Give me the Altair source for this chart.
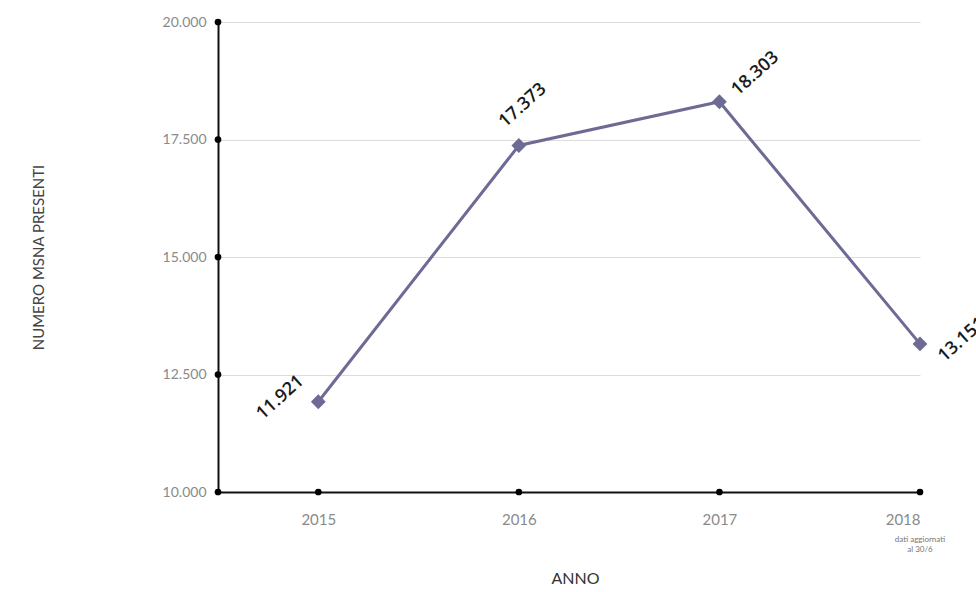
import altair as alt
import pandas as pd

years = [2015, 2016, 2017, 2018]
values = [11921, 17373, 18303, 13151]
labels = ["11.921", "17.373", "18.303", "13.151"]
y_ticks = [10000, 12500, 15000, 17500, 20000]
x_ticks = [2015, 2016, 2017, 2018]
note_2018 = ["dati aggiornati", "al 30/6"]

# label offsets (pixels) per point: styles, not data
label_offsets = {2015: (-38, -4), 2016: (4, -40), 2017: (36, -28), 2018: (42, -4)}

df = pd.DataFrame({"anno": years, "valore": values, "etichetta": labels})
yt = pd.DataFrame({"v": y_ticks, "x0": [2014.5] * len(y_ticks)})
xt = pd.DataFrame({"anno": x_ticks, "y0": [10000] * len(x_ticks)})
note = pd.DataFrame({"anno": [2018], "y0": [10000], "txt": [note_2018]})

LINE = "#6d6b96"
xscale = alt.Scale(domain=[2014.5, 2018.0], nice=False, zero=False)
yscale = alt.Scale(domain=[10000, 20000], nice=False, zero=False)

lbl_expr = "replace(format(datum.value, ','), ',', '.')"

base = alt.Chart(df)

line = base.mark_line(color=LINE, strokeWidth=3).encode(
    x=alt.X("anno:Q", scale=xscale,
            axis=alt.Axis(values=x_ticks, format="d", title="ANNO", grid=False,
                          domainColor="#111", domainWidth=2, ticks=False,
                          labelColor="#8a8a8a", labelFontSize=15, labelFont="Lato",
                          labelPadding=20, titleFont="Lato", titleFontSize=16,
                          titleFontWeight="normal", titleColor="#333",
                          titleX=357, titleY=78)),
    y=alt.Y("valore:Q", scale=yscale,
            axis=alt.Axis(values=y_ticks, labelExpr=lbl_expr, title="NUMERO MSNA PRESENTI",
                          grid=True, gridColor="#dcdcdc", gridWidth=1.2,
                          domainColor="#111", domainWidth=2, ticks=False,
                          labelColor="#8a8a8a", labelFontSize=14, labelFont="Lato",
                          labelPadding=12, titleFont="Lato", titleFontSize=15,
                          titleFontWeight="normal", titleColor="#444",
                          titleAngle=-90, titleX=-172, titleY=235)),
)

points = base.mark_point(shape="diamond", filled=True, size=220, color=LINE, opacity=1).encode(
    x=alt.X("anno:Q", scale=xscale), y=alt.Y("valore:Q", scale=yscale))

ydots = alt.Chart(yt).mark_circle(color="#000", size=45, opacity=1).encode(
    x=alt.X("x0:Q", scale=xscale), y=alt.Y("v:Q", scale=yscale))
xdots = alt.Chart(xt).mark_circle(color="#000", size=45, opacity=1).encode(
    x=alt.X("anno:Q", scale=xscale), y=alt.Y("y0:Q", scale=yscale))

texts = []
for yr in years:
    dx, dy = label_offsets[yr]
    texts.append(
        base.transform_filter(alt.datum.anno == yr).mark_text(
            angle=318, fontSize=18, font="Open Sans", fontWeight=600, color="#1a1a1a",
            align="center", baseline="middle").encode(
            x=alt.X("anno:Q", scale=xscale), y=alt.Y("valore:Q", scale=yscale),
            xOffset=alt.value(dx), yOffset=alt.value(dy), text="etichetta:N")
    )

note_txt = alt.Chart(note).mark_text(fontSize=8, color="#777", font="Lato",
                                     baseline="top", dy=44, lineHeight=10).encode(
    x=alt.X("anno:Q", scale=xscale), y=alt.Y("y0:Q", scale=yscale), text="txt")

chart = alt.layer(line, points, ydots, xdots, *texts, note_txt).properties(
    width=702, height=470,
    autosize=alt.AutoSizeParams(type="none"),
    padding={"left": 218, "top": 22, "right": 56, "bottom": 100},
    background="white",
).configure_view(stroke=None)

chart.save("out.html", embed_options={"renderer": "svg", "actions": False})
